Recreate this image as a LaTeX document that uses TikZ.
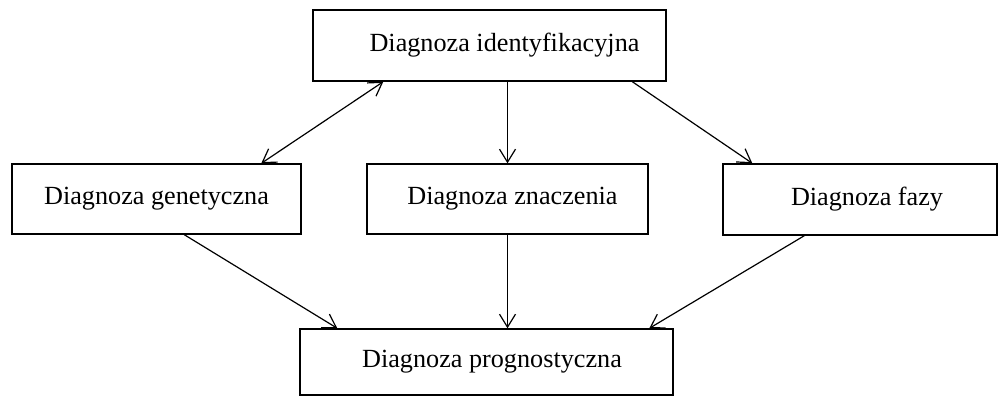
\documentclass[tikz,border=0pt]{standalone}
\usepackage{fontspec}
\setmainfont{Liberation Serif}
\usetikzlibrary{arrows.meta}
\begin{document}
\begin{tikzpicture}[x=1pt,y=-1pt,
  box/.style={draw,line width=1.4pt,rectangle,inner sep=0pt,font=\fontsize{26.2}{30}\selectfont},
  arr/.style={line width=1.2pt,-{Straight Barb[length=13pt,width=16pt,line width=1.2pt]}},
  darr/.style={line width=1.2pt,{Straight Barb[length=13pt,width=16pt,line width=1.2pt]}-{Straight Barb[length=13pt,width=16pt,line width=1.2pt]}}]
\useasboundingbox (0,0) rectangle (1008,399);
\node[box,minimum width=353pt,minimum height=71pt] (top) at (489.5,45.5) {\hspace*{30pt}Diagnoza identyfikacyjna};
\node[box,minimum width=289pt,minimum height=70pt] (left) at (156.5,199) {Diagnoza genetyczna};
\node[box,minimum width=281pt,minimum height=70pt] (mid) at (507.5,199) {\hspace*{10pt}Diagnoza znaczenia};
\node[box,minimum width=274pt,minimum height=71pt] (right) at (860,199.5) {\hspace*{14pt}Diagnoza fazy};
\node[box,minimum width=373pt,minimum height=66pt] (bot) at (486.5,362) {\hspace*{11pt}Diagnoza prognostyczna};
\draw[darr] ([xshift=250pt]left.north west) -- ([xshift=71pt]top.south west);
\draw[arr] ([xshift=320pt]top.south west) -- ([xshift=30pt]right.north west);
\draw[arr] (mid.north |- top.south) -- (mid.north);
\draw[arr] ([xshift=173pt]left.south west) -- ([xshift=38pt]bot.north west);
\draw[arr] (mid.south) -- (mid.south |- bot.north);
\draw[arr] ([xshift=82pt]right.south west) -- ([xshift=350pt]bot.north west);
\end{tikzpicture}
\end{document}
